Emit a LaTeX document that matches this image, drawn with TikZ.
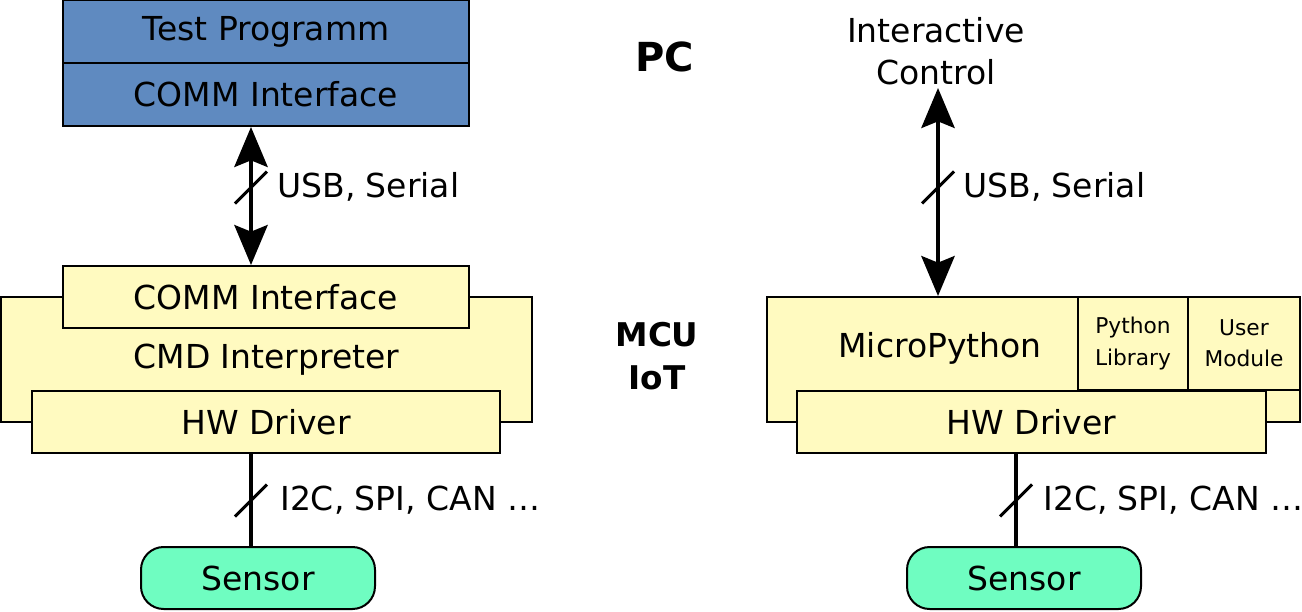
\documentclass[tikz,border=0pt]{standalone}
\usepackage{fontspec}
\setmainfont{DejaVu Sans}
\usetikzlibrary{arrows.meta,calc}
\definecolor{pcblue}{RGB}{95,138,192}
\definecolor{mcuyellow}{RGB}{255,250,192}
\definecolor{sensgreen}{RGB}{111,253,193}
\begin{document}
\begin{tikzpicture}[x=0.75pt,y=-0.75pt,
  txt/.style={font=\fontsize{24.75pt}{31.5pt}\selectfont},
  small/.style={font=\fontsize{16.3pt}{23.5pt}\selectfont},
  boxb/.style={draw=black, line width=1.5pt, fill=pcblue, inner sep=0pt, txt, align=center},
  boxy/.style={draw=black, line width=1.5pt, fill=mcuyellow, inner sep=0pt, txt, align=center},
  boxs/.style={draw=black, line width=1.5pt, fill=sensgreen, inner sep=0pt, txt, rounded corners=17pt},
  link/.style={line width=2.6pt},
  darrow/.style={link, {Stealth[length=30pt,width=25pt,inset=5pt]}-{Stealth[length=30pt,width=25pt,inset=5pt]}},
  slash/.style={line width=2.3pt},
  lbl/.style={txt, anchor=west, inner sep=0pt}
]
\useasboundingbox (0,0) rectangle (1302,611);

% ---------- left: PC ----------
\node[boxb, minimum width=406*0.75pt, minimum height=63*0.75pt] (tp) at (266,31.5) {Test Programm};
\node[boxb, minimum width=406*0.75pt, minimum height=63*0.75pt] (commPC) at (266,94.5) {COMM Interface};

% ---------- left: MCU ----------
\node[boxy, minimum width=531*0.75pt, minimum height=125*0.75pt] (cmd) at (266.5,359.5) {CMD Interpreter};
\node[boxy, minimum width=406*0.75pt, minimum height=62*0.75pt] (commMCU) at (266,297) {COMM Interface};
\node[boxy, minimum width=468*0.75pt, minimum height=62*0.75pt] (hwL) at (266,422) {HW Driver};
\node[boxs, minimum width=234*0.75pt, minimum height=62*0.75pt] (sensL) at (258,578) {Sensor};

\coordinate (sl1) at (251,187.5);
\draw[darrow] (sl1 |- commPC.south) -- (sl1 |- commMCU.north);
\draw[slash] (sl1) ++(-16,16) -- ++(32,-32);
\node[lbl] (usbL) at (277,187) {USB, Serial};

\coordinate (sl2) at (251,500.5);
\draw[link] (sl2 |- hwL.south) -- (sl2 |- sensL.north);
\draw[slash] (sl2) ++(-16,16) -- ++(32,-32);
\node[lbl] (i2cL) at (280,500) {I2C, SPI, CAN \dots};

% ---------- middle labels ----------
\node[font=\fontsize{30pt}{34pt}\selectfont\bfseries] (pc) at (665,57) {PC};
\node[align=center, font=\fontsize{24.5pt}{32pt}\selectfont\bfseries] (mcu) at (657,356) {MCU\\IoT};

% ---------- right ----------
\node[align=center, font=\fontsize{24.75pt}{31.5pt}\selectfont] (ic) at (936,51) {Interactive\\Control};
\node[boxy, minimum width=533*0.75pt, minimum height=125*0.75pt] (mp) at (1033.5,359.5) {};
\node[txt] (mptext) at (940,348) {MicroPython};
\node[boxy, small, minimum width=110*0.75pt, minimum height=93*0.75pt] (pylib) at (1133,343.5) {Python\\Library};
\node[boxy, small, minimum width=112*0.75pt, minimum height=93*0.75pt] (umod) at (1244,343.5) {User\\Module};
\node[boxy, minimum width=469*0.75pt, minimum height=62*0.75pt] (hwR) at (1031.5,422) {HW Driver};
\node[boxs, minimum width=234*0.75pt, minimum height=62*0.75pt] (sensR) at (1024,578) {Sensor};

\coordinate (icb) at (938,88);
\coordinate (sl3) at (938,187.5);
\draw[darrow] (icb) -- (sl3 |- mp.north);
\draw[slash] (sl3) ++(-16,16) -- ++(32,-32);
\node[lbl] (usbR) at (963,187) {USB, Serial};

\coordinate (sl4) at (1016,500.5);
\draw[link] (sl4 |- hwR.south) -- (sl4 |- sensR.north);
\draw[slash] (sl4) ++(-16,16) -- ++(32,-32);
\node[lbl] (i2cR) at (1043,500) {I2C, SPI, CAN \dots};
\end{tikzpicture}
\end{document}
